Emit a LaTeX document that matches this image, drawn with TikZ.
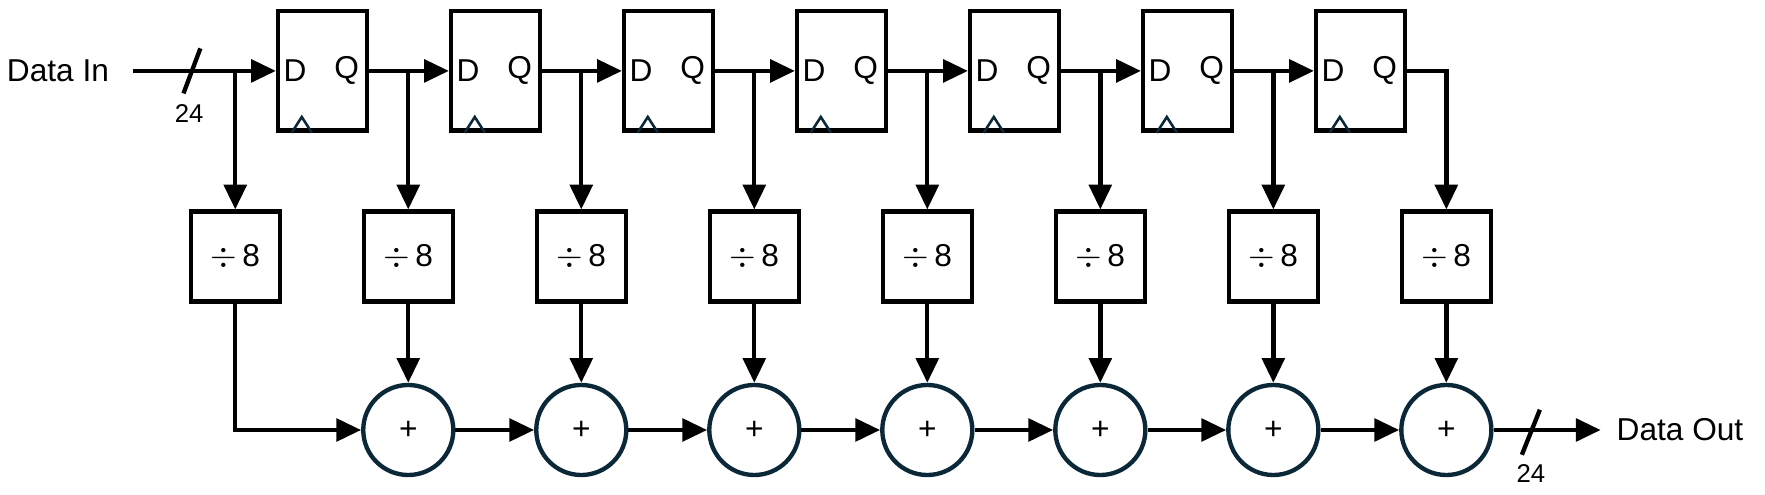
\documentclass[tikz,border=0pt]{standalone}
\usepackage{fontspec}
\setmainfont{Liberation Sans}
\usetikzlibrary{arrows.meta,calc}
\definecolor{navy}{HTML}{0B2838}
\begin{document}
\begin{tikzpicture}[x=0.02cm,y=-0.02cm,
  wire/.style={line width=2.2pt},
  arr/.style={wire,-{Triangle[length=0.44cm,width=0.4cm]}},
  ff/.style={draw,line width=2.2pt,minimum width=1.58cm,minimum height=2.12cm,inner sep=0},
  dv/.style={draw,line width=2.2pt,minimum width=1.58cm,minimum height=1.6cm,inner sep=0,font=\fontsize{16}{16}\selectfont},
  ad/.style={draw=navy,circle,line width=2.2pt,minimum size=1.6cm,inner sep=0,font=\fontsize{16}{16}\selectfont},
  lbl/.style={font=\fontsize{16}{16}\selectfont},
  sm/.style={font=\fontsize{13}{13}\selectfont}]
\useasboundingbox (0,0) rectangle (1568,439);
\foreach \i in {1,...,7}{
  \node[ff] (f\i) at ({286.5+153.7*(\i-1)},63) {};
  \node[lbl] at ($(f\i.west)+(17,0)$) {D};
  \node[lbl] at ($(f\i.east)+(-20,0)$) {Q};
  \draw[navy,line width=1.3pt] ($(f\i.south west)+(14,0)$) -- ++(9,-14) -- ++(9,14);
}
\foreach \i in {1,...,8}{
  \node[dv] (d\i) at ({209+153.7*(\i-1)},228) {$\div$\,8};
}
\foreach \i in {2,...,8}{
  \node[ad] (a\i) at ({209+153.7*(\i-1)},382) {+};
  \draw[arr] (d\i) -- (a\i);
}
\node[lbl,anchor=west] (din) at (0,63) {Data In};
\coordinate (s) at (118,63);
\draw[arr] (s) -- (f1.west);
\draw[arr] (d1|-s) -- (d1.north);
\draw[wire] (163,83) -- (178,43);
\node[sm] at (168,101) {24};
\foreach \i [evaluate=\i as \j using int(\i+1)] in {1,...,6}{
  \draw[arr] (f\i.east) -- (f\j.west);
  \draw[arr] (d\j|-f\i.east) -- (d\j.north);
}
\draw[arr] (f7.east) -| (d8.north);
\draw[arr] (d1.south) |- (a2.west);
\foreach \i [evaluate=\i as \j using int(\i+1)] in {2,...,7}{
  \draw[arr] (a\i) -- (a\j);
}
\coordinate (o) at (1422,382);
\draw[arr] (a8) -- (o);
\draw[wire] (1352,404) -- (1368,364);
\node[sm] at (1360,421) {24};
\node[lbl,anchor=west] at (1430,382) {Data Out};
\end{tikzpicture}
\end{document}
